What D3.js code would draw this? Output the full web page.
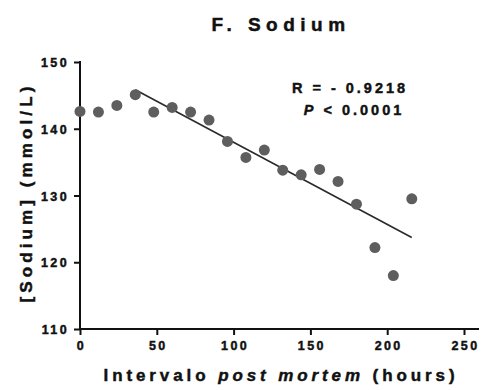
<!DOCTYPE html>
<html>
<head>
<meta charset="utf-8">
<script src="https://cdn.jsdelivr.net/npm/d3@7/dist/d3.min.js"></script>
<style>
  html, body { margin: 0; padding: 0; background: #fff; }
  svg { display: block; font-family: "Liberation Sans", Arial, sans-serif; font-weight: bold; }
  svg text { fill: #111; stroke: #111; stroke-width: 0.45px; }
</style>
</head>
<body>
<svg id="chart" width="483" height="390"></svg>
<script>
// Post-mortem interval (hours) and sodium concentration (mmol/L)
const hours  = [0, 12, 24, 36, 48, 60, 72, 84, 96, 108, 120, 132, 144, 156, 168, 180, 192, 204, 216];
const sodium = [142.6, 142.5, 143.5, 145.1, 142.5, 143.2, 142.5, 141.3, 138.1, 135.7, 136.8, 133.8, 133.1, 133.9, 132.1, 128.7, 122.2, 118.0, 129.5];
const xTicks = [0, 50, 100, 150, 200, 250];
const yTicks = [110, 120, 130, 140, 150];
const fitStart = 36; // regression fitted from the sodium peak onward
const statR = "R = - 0.9218";
const statP = "< 0.0001";

const svg = d3.select("#chart");
const x = d3.scaleLinear().domain([0, 250]).range([80, 464]);
const y = d3.scaleLinear().domain([110, 150]).range([329, 62]);

const points = hours.map((h, i) => ({ h, v: sodium[i] }));

// Least-squares fit over the declining phase
const fitPts = points.filter(d => d.h >= fitStart);
const mx = d3.mean(fitPts, d => d.h), my = d3.mean(fitPts, d => d.v);
const slope = d3.sum(fitPts, d => (d.h - mx) * (d.v - my)) / d3.sum(fitPts, d => (d.h - mx) ** 2);
const icpt = my - slope * mx;
const fitX = d3.extent(fitPts, d => d.h);

// Title
svg.append("text")
  .attr("x", 281).attr("y", 31)
  .attr("text-anchor", "middle")
  .style("font-size", "19px").style("letter-spacing", "5.5px")
  .text("F. Sodium");

// Axes
const xAxis = svg.append("g").attr("transform", `translate(0,${y(110)})`)
  .call(d3.axisBottom(x).tickValues(xTicks).tickSize(6).tickSizeOuter(0).tickPadding(6));
const yAxis = svg.append("g").attr("transform", `translate(${x(0)},0)`)
  .call(d3.axisLeft(y).tickValues(yTicks).tickSize(6).tickSizeOuter(0).tickPadding(5));
[xAxis, yAxis].forEach(g => {
  g.select(".domain").remove();
  g.selectAll(".tick line").attr("stroke", "#111").attr("stroke-width", 2);
  g.selectAll(".tick text")
    .attr("fill", "#111")
    .style("font-family", "'Liberation Sans', Arial, sans-serif")
    .style("font-weight", "bold")
    .style("font-size", "12.5px")
    .style("letter-spacing", "2.4px");
});
xAxis.selectAll(".tick text").attr("dx", "1px");
yAxis.selectAll(".tick text").attr("dy", "0.36em");

svg.append("line")
  .attr("x1", x(0) - 1).attr("x2", 479)
  .attr("y1", y(110)).attr("y2", y(110))
  .attr("stroke", "#111").attr("stroke-width", 2);
svg.append("line")
  .attr("x1", x(0)).attr("x2", x(0))
  .attr("y1", y(150) - 1).attr("y2", y(110))
  .attr("stroke", "#111").attr("stroke-width", 2);

// Axis titles
svg.append("text")
  .attr("transform", `translate(32,${(y(110) + y(150)) / 2 - 3}) rotate(-90)`)
  .attr("text-anchor", "middle")
  .style("font-size", "17px").style("letter-spacing", "4.1px")
  .text("[Sodium] (mmol/L)");

const xt = svg.append("text")
  .attr("x", 281).attr("y", 381)
  .attr("text-anchor", "middle")
  .style("font-size", "17px").style("letter-spacing", "3.9px");
xt.append("tspan").text("Intervalo ");
xt.append("tspan").style("font-style", "italic").text("post mortem");
xt.append("tspan").text(" (hours)");

// Regression line
svg.append("line")
  .attr("x1", x(fitX[0])).attr("y1", y(slope * fitX[0] + icpt))
  .attr("x2", x(fitX[1])).attr("y2", y(slope * fitX[1] + icpt))
  .attr("stroke", "#2a2a2a").attr("stroke-width", 1.6);

// Data points
svg.append("g").selectAll("circle").data(points).join("circle")
  .attr("cx", d => x(d.h)).attr("cy", d => y(d.v))
  .attr("r", 5.5).attr("fill", "#5e5e5e");

// Correlation statistics
svg.append("text")
  .attr("x", 350).attr("y", 93)
  .attr("text-anchor", "middle")
  .style("font-size", "14.5px").style("letter-spacing", "3px")
  .text(statR);
const pt = svg.append("text")
  .attr("x", 354).attr("y", 115)
  .attr("text-anchor", "middle")
  .style("font-size", "14.5px").style("letter-spacing", "3px");
pt.append("tspan").style("font-style", "italic").text("P");
pt.append("tspan").text(" " + statP);
</script>
</body>
</html>
